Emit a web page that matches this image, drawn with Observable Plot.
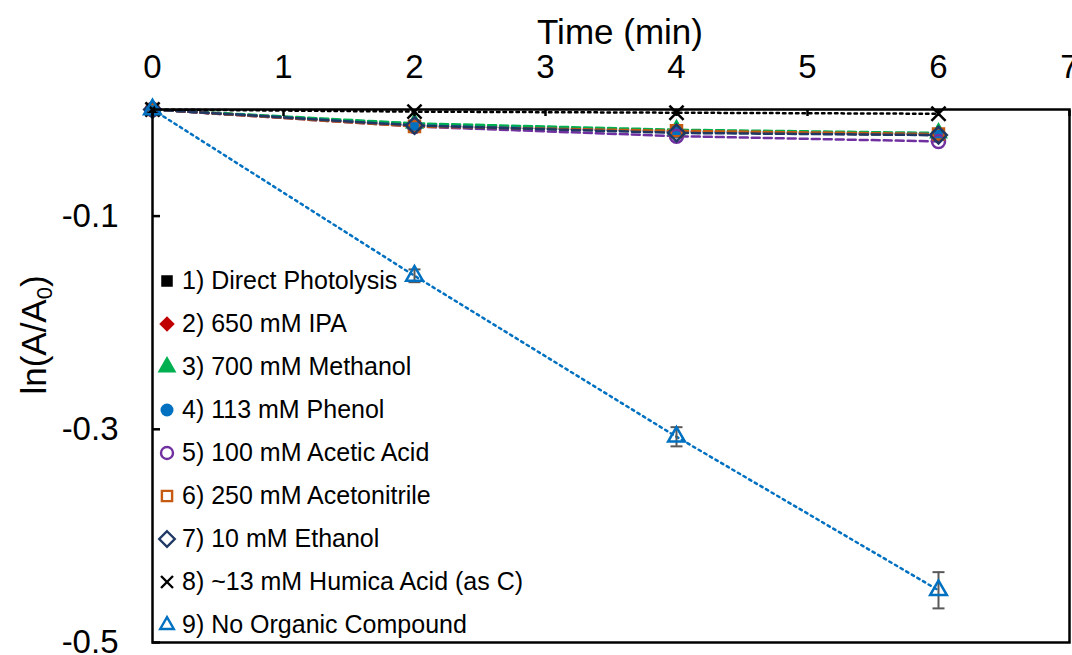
<!DOCTYPE html>
<html><head><meta charset="utf-8">
<script src="https://cdn.jsdelivr.net/npm/d3@7"></script>
<script src="https://cdn.jsdelivr.net/npm/@observablehq/plot@0.6"></script>
<style>
body{margin:0;background:#fff;font-family:"Liberation Sans",Arial,sans-serif;}
#wrap{position:relative;width:1072px;height:655px;overflow:hidden;}
#legend{position:absolute;left:156px;top:259px;font-size:25px;color:#000;line-height:1;}
.row{height:43px;display:flex;align-items:center;white-space:nowrap;}
.row svg{width:22px;height:22px;margin-right:4px;flex:none;}
</style></head><body><div id="wrap"></div>
<script>
// ---- data ----
const times = [0, 2, 4, 6];
const xTicks = [0, 1, 2, 3, 4, 5, 6, 7];
const yTicks = [-0.1, -0.3, -0.5];
const seriesNames = [
  "1) Direct Photolysis",
  "2) 650 mM IPA",
  "3) 700 mM Methanol",
  "4) 113 mM Phenol",
  "5) 100 mM Acetic Acid",
  "6) 250 mM Acetonitrile",
  "7) 10 mM Ethanol",
  "8) ~13 mM Humica Acid (as C)",
  "9) No Organic Compound"
];
const directPhotolysis = [0, -0.015, -0.021, -0.024];
const ipa = [0, -0.014, -0.020, -0.023];
const methanol = [0, -0.013, -0.019, -0.022];
const phenol = [0, -0.015, -0.021, -0.023];
const aceticAcid = [0, -0.016, -0.025, -0.030];
const acetonitrile = [0, -0.016, -0.020, -0.023];
const ethanol = [0, -0.015, -0.022, -0.024];
const humicAcid = [0, -0.002, -0.003, -0.004];
const noOrganic = [0, -0.156, -0.307, -0.451];
const noOrganicErr = [0, 0.006, 0.009, 0.017];

// ---- styles ----
const seriesValues = [directPhotolysis, ipa, methanol, phenol, aceticAcid, acetonitrile, ethanol, humicAcid, noOrganic];
const styles = [
  {color: "#000000", symbol: d3.symbolSquare, filled: true, r: 6.5, dash: "8,4", lr: 6.5},
  {color: "#C00000", symbol: d3.symbolDiamond2, filled: true, r: 7, dash: "8,4", lr: 7},
  {color: "#00B050", symbol: d3.symbolTriangle, filled: true, r: 7, dash: "8,4", lr: 7},
  {color: "#0070C0", symbol: d3.symbolCircle, filled: true, r: 6.5, dash: "8,4", lr: 6.5},
  {color: "#7030A0", symbol: d3.symbolCircle, filled: false, r: 6.5, dash: "8,4", lr: 6},
  {color: "#C55A11", symbol: d3.symbolSquare2, filled: false, r: 7, dash: "8,4", lr: 6.5},
  {color: "#1F3864", symbol: d3.symbolDiamond2, filled: false, r: 7.5, dash: "8,4", lr: 7},
  {color: "#000000", symbol: d3.symbolTimes, filled: false, r: 6.5, dash: "2.5,4", lr: 5.5},
  {color: "#0070C0", symbol: d3.symbolTriangle2, filled: false, r: 8, dash: "2.5,4", lr: 6.5}
];

const rows = seriesValues.flatMap((vals, k) => times.map((t, i) => ({k, t, v: vals[i]})));
const errRows = times.map((t, i) => ({t, lo: noOrganic[i] - noOrganicErr[i], hi: noOrganic[i] + noOrganicErr[i]})).filter((d, i) => noOrganicErr[i] > 0);
const capSymbol = {draw(ctx) { ctx.moveTo(-6, 0); ctx.lineTo(6, 0); }};

const lineMarks = styles.map((s, k) => Plot.line(rows.filter(d => d.k === k), {
  x: "t", y: "v", stroke: s.color, strokeWidth: 2.5, strokeDasharray: s.dash
}));
const dotMarks = styles.map((s, k) => Plot.dot(rows.filter(d => d.k === k), {
  x: "t", y: "v", symbol: s.symbol, r: s.r,
  fill: s.filled ? s.color : "none", stroke: s.filled ? "none" : s.color, strokeWidth: 2.5
}));

const chart = Plot.plot({
  width: 1072, height: 655,
  marginLeft: 152, marginRight: 3, marginTop: 109, marginBottom: 13,
  style: {fontFamily: "Liberation Sans, Arial, sans-serif", fontSize: "33px", color: "#000", background: "#fff", overflow: "visible"},
  x: {domain: [0, 7]},
  y: {domain: [-0.5, 0]},
  marks: [
    ...lineMarks,
    Plot.ruleX(errRows, {x: "t", y1: "lo", y2: "hi", stroke: "#595959", strokeWidth: 2}),
    Plot.dot(errRows, {x: "t", y: "lo", symbol: capSymbol, stroke: "#595959", strokeWidth: 2}),
    Plot.dot(errRows, {x: "t", y: "hi", symbol: capSymbol, stroke: "#595959", strokeWidth: 2}),
    ...dotMarks,
    Plot.frame({stroke: "#000", strokeWidth: 2.5}),
    Plot.axisX({anchor: "top", ticks: xTicks, tickSize: 0, tickPadding: 32, tickFormat: d => String(d), label: null, fontSize: 33}),
    Plot.axisX({anchor: "top", ticks: xTicks, tickSize: -6, tickFormat: () => "", label: null, strokeWidth: 2.5}),
    Plot.axisY({anchor: "left", ticks: yTicks, tickSize: 0, tickPadding: 34, tickFormat: d => d.toFixed(1), label: null, fontSize: 33}),
    Plot.axisY({anchor: "left", ticks: yTicks, tickSize: -8, tickFormat: () => "", label: null, strokeWidth: 2.5})
  ]
});

const wrap = document.getElementById("wrap");
wrap.appendChild(chart);

// axis titles
const svg = d3.select(chart);
svg.append("text")
  .attr("x", 620).attr("y", 44)
  .attr("text-anchor", "middle")
  .attr("font-size", 35).attr("fill", "#000")
  .text("Time (min)");
const yt = svg.append("text")
  .attr("transform", "translate(46,335) rotate(-90)")
  .attr("text-anchor", "middle")
  .attr("font-size", 35).attr("fill", "#000");
yt.append("tspan").text("ln(A/A");
yt.append("tspan").attr("font-size", 22).attr("dy", 6).text("0");
yt.append("tspan").attr("dy", -6).text(")");

// legend
const legend = d3.select(wrap).append("div").attr("id", "legend");
styles.forEach((s, k) => {
  const row = legend.append("div").attr("class", "row");
  const sv = row.append("svg").attr("viewBox", "0 0 22 22");
  sv.append("path")
    .attr("transform", "translate(11,11)")
    .attr("d", d3.symbol(s.symbol, Math.PI * s.lr * s.lr)())
    .attr("fill", s.filled ? s.color : "none")
    .attr("stroke", s.filled ? "none" : s.color)
    .attr("stroke-width", 2.4);
  row.append("span").text(seriesNames[k]);
});
</script>
</body></html>
